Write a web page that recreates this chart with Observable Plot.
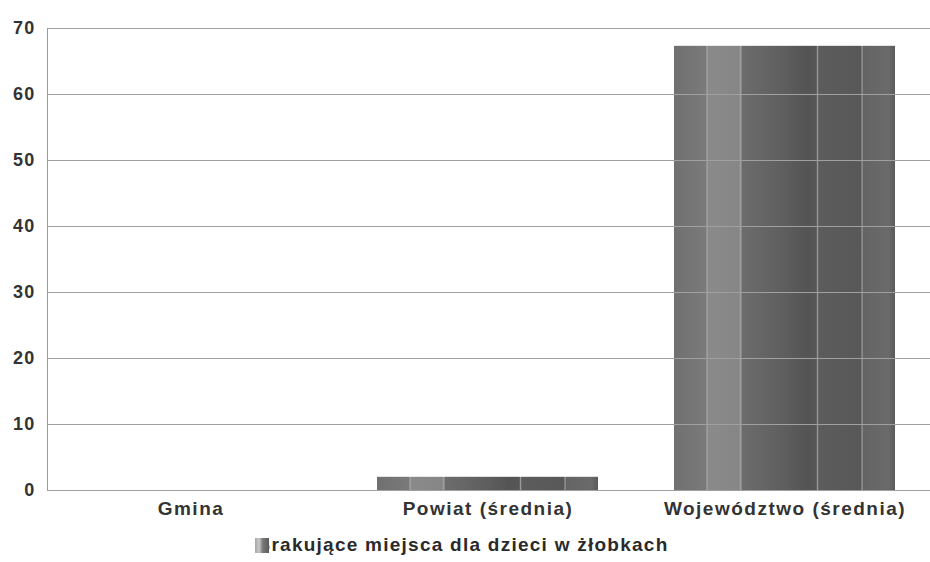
<!DOCTYPE html>
<html>
<head>
<meta charset="utf-8">
<script src="https://cdn.jsdelivr.net/npm/d3@7"></script>
<script src="https://cdn.jsdelivr.net/npm/@observablehq/plot@0.6"></script>
<style>
  html, body { margin: 0; padding: 0; background: #fff; }
  body { width: 930px; height: 562px; overflow: hidden; font-family: "Liberation Sans", Arial, sans-serif; }
  #legend { text-align: center; font-weight: bold; font-size: 19px; letter-spacing: 1.25px; color: #2a2a2a; margin-top: 9px; line-height: 22px; padding-right: 6px; }
  #legend .sw { display: inline-block; position: relative; z-index: 1; width: 14px; height: 15px; vertical-align: -2px; margin-right: -13px;
    background: linear-gradient(90deg, #a8a8a8, #c8c8c8 30%, #7a7a7a 55%, #5a5a5a); }
</style>
</head>
<body>
<div id="chart"></div>
<div id="legend"><span class="sw"></span>Brakujące miejsca dla dzieci w żłobkach</div>
<script>
const categories = ["Gmina", "Powiat (średnia)", "Województwo (średnia)"];
const values = [0, 2.0, 67.3];
const yTicks = [0, 10, 20, 30, 40, 50, 60, 70];
const seriesName = "Brakujące miejsca dla dzieci w żłobkach";

const data = categories.map((c, i) => ({category: c, value: values[i]}));

const chart = Plot.plot({
  width: 930,
  height: 525,
  marginLeft: 47,
  marginRight: 0,
  marginTop: 28,
  marginBottom: 35,
  style: {fontFamily: "'Liberation Sans', Arial, sans-serif", background: "#fff"},
  x: {domain: categories, range: [41, 934], paddingInner: 0.255, paddingOuter: 0.1275, label: null},
  y: {domain: [0, 70], ticks: yTicks, label: null},
  marks: [
    Plot.frame({anchor: "left", stroke: "#9a9a9a"}),
    Plot.barY(data, {x: "category", y: "value", fill: "url(#barGrad)"}),
    Plot.ruleY(yTicks, {stroke: "#a0a0a0", strokeWidth: 1}),
    Plot.axisY({ticks: yTicks, tickSize: 0, tickPadding: 12, fontSize: 18, fontWeight: "bold", fill: "#333", label: null}),
    Plot.axisX({tickSize: 0, tickPadding: 11, fontSize: 19, fontWeight: "bold", fill: "#333", label: null})
  ]
});

const svg = d3.select(chart);
svg.selectAll("[aria-label='y-axis tick label'] text").style("letter-spacing", "1.2px");
svg.selectAll("[aria-label='x-axis tick label'] text").style("letter-spacing", "1.5px");
const defs = svg.insert("defs", ":first-child");
const grad = defs.append("linearGradient").attr("id", "barGrad").attr("x1", 0).attr("x2", 1).attr("y1", 0).attr("y2", 0);
const stops = [
  [0, "#707070"], [0.145, "#7a7a7a"], [0.149, "#a8a8a8"], [0.156, "#8a8a8a"],
  [0.295, "#868686"], [0.302, "#a4a4a4"], [0.309, "#6c6c6c"], [0.5, "#5e5e5e"],
  [0.6, "#545454"], [0.644, "#565656"], [0.649, "#9e9e9e"], [0.655, "#5c5c5c"],
  [0.845, "#585858"], [0.851, "#9a9a9a"], [0.857, "#646464"], [0.97, "#6a6a6a"], [1, "#5a5a5a"]
];
stops.forEach(([o, c]) => grad.append("stop").attr("offset", o).attr("stop-color", c));

document.getElementById("chart").appendChild(chart);
</script>
</body>
</html>
